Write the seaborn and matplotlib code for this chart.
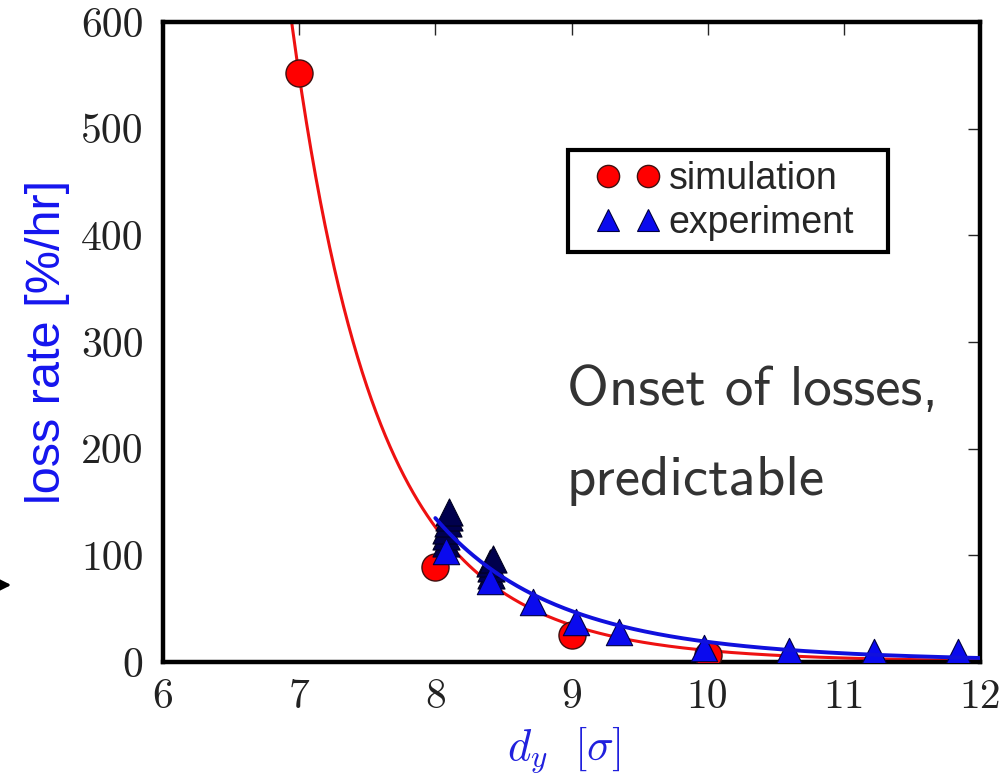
import numpy as np
import pandas as pd
import matplotlib
matplotlib.use('Agg')
import matplotlib.pyplot as plt
from matplotlib.lines import Line2D
from matplotlib.legend_handler import HandlerLine2D
import seaborn as sns

# simulation points
sim_x = [7.0, 8.0, 9.0, 10.0]
sim_y = [552, 89, 25, 7]

# experiment points (front)
exp_x = [8.08, 8.40, 8.72, 9.03, 9.35, 9.97, 10.60, 11.22, 11.84]
exp_y = [104, 76, 56, 38, 28, 13, 10, 9, 9]

# repeated measurements stacked behind (dark)
stack_x = [8.08, 8.08, 8.08, 8.09, 8.10, 8.10, 8.41, 8.41, 8.40, 8.42]
stack_y = [112, 118, 124, 130, 136, 141, 82, 88, 93, 97]

# power-law fit curves: [d0, rate at d0, exponent, d_end]
sim_fit = [7.0, 550, 11.0, 12.0]
exp_fit = [8.0, 135, 8.8, 12.0]

sns.set_style('white')
plt.rcParams['mathtext.fontset'] = 'cm'

df_sim = pd.DataFrame({'x': sim_x, 'y': sim_y})
df_exp = pd.DataFrame({'x': exp_x, 'y': exp_y})
df_stack = pd.DataFrame({'x': stack_x, 'y': stack_y})


def power_curve(p, x_start):
    d0, r0, n, x_end = p
    xs = np.linspace(x_start, x_end, 300)
    return pd.DataFrame({'x': xs, 'y': r0 * (xs / d0) ** (-n)})


fit_sim = power_curve(sim_fit, 6.9)
fit_exp = power_curve(exp_fit, exp_fit[0])

fig = plt.figure(figsize=(10.03, 7.78), dpi=100)
ax = fig.add_axes([0.1625, 0.149, 0.8146, 0.8226])

sns.lineplot(data=fit_sim, x='x', y='y', color='#ee1111', lw=2.2, ax=ax, zorder=2)
sns.scatterplot(data=df_sim, x='x', y='y', marker='o', s=380, color='#ff0000',
                edgecolor='#401010', linewidth=1, ax=ax, zorder=3, legend=False)
sns.scatterplot(data=df_stack, x='x', y='y', marker='^', s=380, color='#00004d',
                edgecolor='#000020', linewidth=0.8, ax=ax, zorder=4, legend=False)
sns.scatterplot(data=df_exp, x='x', y='y', marker='^', s=360, color='#0a0aee',
                edgecolor='#000040', linewidth=0.8, ax=ax, zorder=5, legend=False)
sns.lineplot(data=fit_exp, x='x', y='y', color='#1010dd', lw=2.8, ax=ax, zorder=6)

ax.set_xlim(6, 12)
ax.set_ylim(0, 600)
ax.set_xticks(range(6, 13))
ax.set_yticks(range(0, 601, 100))
ax.tick_params(direction='in', length=9, width=1, top=True, right=True,
               labelsize=30, labelfontfamily='cmr10', labelcolor='#222222')
ax.tick_params(axis='x', pad=12)
ax.tick_params(axis='y', pad=14)
for sp in ax.spines.values():
    sp.set_linewidth(3.2)
    sp.set_color('black')

ax.set_xlabel(r'$d_y\ \ [\sigma]$', fontsize=32, color='#2020dd')
ax.xaxis.set_label_coords(0.491, -0.098)
ax.set_ylabel('loss rate [%/hr]', fontsize=35, color='#1515ee', family='Liberation Sans')
ax.yaxis.set_label_coords(-0.114, 0.5)

handles = [
    Line2D([], [], ls='none', marker='o', ms=16, color='#ff0000', mec='#401010', mew=1),
    Line2D([], [], ls='none', marker='^', ms=16, color='#0a0aee', mec='#000040', mew=0.8),
]
leg = ax.legend(handles, ['simulation', 'experiment'], loc='upper left',
                bbox_to_anchor=(0.4957, 0.60, 0.3917, 0.20), mode='expand', numpoints=2,
                prop={'family': 'Liberation Sans', 'size': 27},
                handler_map={Line2D: HandlerLine2D(marker_pad=0.78)},
                frameon=True, fancybox=False, framealpha=1, edgecolor='black',
                handlelength=2.61, handletextpad=-0.23, borderpad=0.3, labelspacing=0.2,
                borderaxespad=0)
leg.get_frame().set_linewidth(3)

ax.text(0.494, 0.401, 'Onset of losses,', transform=ax.transAxes, fontsize=41,
        family='cmss10', color='#333333', ha='left', va='baseline')
ax.text(0.494, 0.261, 'predictable', transform=ax.transAxes, fontsize=41,
        family='cmss10', color='#333333', ha='left', va='baseline')

ax.annotate('', xy=(14, 193), xytext=(-40, 193), xycoords='figure pixels',
            textcoords='figure pixels', annotation_clip=False,
            arrowprops=dict(arrowstyle='-|>', color='black', lw=2, mutation_scale=28))

plt.savefig('out.png', dpi=100)
